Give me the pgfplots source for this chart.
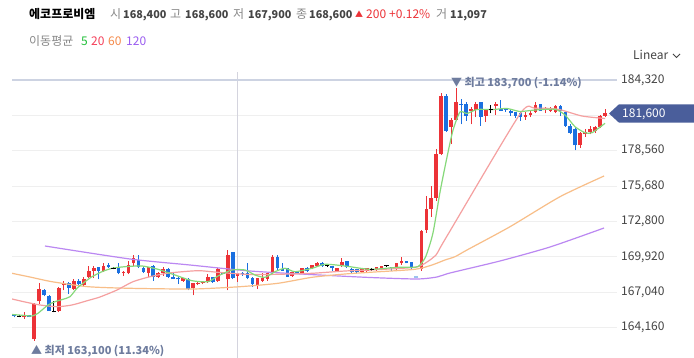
\documentclass[border=0pt]{standalone}
\usepackage{fontspec}
\setmainfont{Noto Sans CJK KR}
\usepackage{pgfplots}
\usepackage{pgfplotstable}
\pgfplotsset{compat=1.18}
\definecolor{cred}{HTML}{EC3237}
\definecolor{cblue}{HTML}{1A6FE0}
\definecolor{ma5}{HTML}{86D97A}
\definecolor{ma20}{HTML}{F5A0A0}
\definecolor{ma60}{HTML}{F8BE88}
\definecolor{ma120}{HTML}{BB88F2}
\definecolor{gridc}{HTML}{EFEFEF}
\definecolor{topgrid}{HTML}{CDD3E2}
\definecolor{crossc}{HTML}{D4D4DE}
\definecolor{annot}{HTML}{6E7C9E}
\definecolor{pricebox}{HTML}{4A5E9B}
\definecolor{labc}{HTML}{444444}
\definecolor{graytxt}{HTML}{888888}
\definecolor{lg5}{HTML}{22C03A}
\definecolor{lg20}{HTML}{F5405A}
\definecolor{lg60}{HTML}{F58A4A}
\definecolor{lg120}{HTML}{9A5CF0}
\definecolor{mk}{HTML}{9CC2EE}

\pgfplotstableread{
i o h l c
2 165000 165400 164900 165200
4 163200 166200 163100 166100
5 166300 167800 166100 167300
9 165500 167500 165400 167400
10 167600 168000 167200 167800
12 167300 168100 167200 168000
14 167600 168300 167500 168100
15 168300 169200 168200 168800
16 168800 169200 168200 169000
18 168800 169400 168700 169200
22 168600 168800 168400 168700
23 168600 169600 168500 169300
24 169400 170100 169200 169800
27 168600 169100 168300 169100
29 168300 168700 168200 168600
30 168600 169100 168400 168900
34 168000 168200 167900 168200
36 167400 167800 166800 167800
37 167700 167900 167600 167800
38 167800 168000 167700 167900
39 167900 168500 167800 168300
41 168000 169000 167900 168900
43 168100 170500 167200 170100
45 168400 168600 167900 168600
49 167600 168200 167300 168200
50 168000 168600 167900 168200
51 168100 168600 168000 168600
52 168600 170100 168500 169900
56 168400 168700 168300 168700
58 168600 169000 168500 169000
60 169000 169300 168900 169300
61 169200 169500 169100 169400
65 168800 169000 168700 169000
66 169200 169800 169100 169500
70 168700 168900 168600 168900
71 168800 169000 168700 169000
73 168900 169100 168800 169100
74 169000 169200 168900 169200
77 169000 169400 168800 169400
78 169400 169900 169300 169600
82 168900 172100 168800 172000
83 172100 174900 171900 173800
84 173800 175700 173200 174700
85 174700 178700 174500 178300
86 178300 183300 178200 183000
88 180500 181200 179100 181100
89 181100 183700 181000 182500
92 181800 182100 180700 182000
93 181900 182500 181300 182400
95 181400 182000 180900 182000
97 182200 182500 181500 182400
103 181300 181700 181100 181500
104 181500 181800 181300 181600
105 181700 182500 181600 182300
107 181900 182100 181600 182000
108 181800 182100 181700 182000
109 181700 182300 181600 182200
114 179000 180100 178800 180000
115 179900 180300 179700 180100
116 180100 180600 179900 180300
117 180200 180600 180000 180500
118 180500 181500 180400 181400
119 181400 182000 181300 181600
}\upT

\pgfplotstableread{
i o h l c
0 165200 165300 165000 165100
3 165200 165200 165000 165000
6 167200 167300 166700 166800
7 166700 166800 165500 165500
11 167800 167900 166900 167400
13 168000 168100 167500 167700
17 169100 169100 168100 168800
19 169300 169400 169000 169100
21 169100 169400 168500 168600
25 169700 170100 169000 169100
26 169000 169100 168600 168700
28 169200 169300 168000 168300
31 168900 169000 168200 168300
32 168300 168700 168100 168100
33 168200 168300 167700 168100
35 168100 168200 167200 167300
40 168300 168300 167800 167900
42 168600 168700 168500 168500
44 170300 170300 168100 168200
46 168600 168700 168400 168500
47 168600 169400 168100 168200
48 168200 168300 167500 167700
53 169900 170100 168800 169000
54 168900 169400 168800 168800
55 169000 169000 168300 168300
57 168700 168800 168500 168600
59 169000 169100 168700 168800
62 169400 169500 169100 169200
64 169200 169200 168800 169000
67 169600 169600 169000 169100
68 168900 169000 168600 168700
69 168900 168900 168600 168700
76 169100 169100 168800 169000
79 169600 169600 169400 169400
80 169500 169500 168900 169000
87 183000 183200 180100 180200
90 182400 182800 180700 182300
91 182400 182500 181000 181400
94 182500 182500 180600 181300
98 182000 182700 181800 181800
99 182000 182000 181700 181900
100 181800 181900 181400 181600
101 181700 181700 181200 181400
102 181600 181800 181000 181300
106 182400 182400 181800 181800
110 182200 182300 181400 181800
111 181700 181700 180500 180600
112 180600 180700 179900 180000
113 180300 180500 178600 179000
}\downT

\pgfplotstableread{
i o h l c
1 165100 165200 165000 165100
8 165500 166300 165400 165500
20 169000 169100 168900 169000
63 169200 169300 169100 169200
72 168900 169000 168800 168900
75 169200 169300 169100 169200
96 181900 182300 181600 181900
}\dojiT

\pgfplotstableread{
x y
6.18 170810
23.31 169751
35.39 169263
47.48 168775
59.57 168490
71.65 168246
81.12 168124
85.15 168286
87.77 168612
97.84 169589
107.92 170728
118.8 172275
}\maOneTwenty

\pgfplotstableread{
x y
-0.46 168588
3.16 168286
7.59 167904
14.85 167497
23.31 167367
36.0 167310
45.47 167497
53.12 167774
59.97 168262
66.62 168531
71.65 168669
80.72 168913
84.14 169263
86.76 169670
88.78 169939
91.19 170484
99.86 172380
109.93 174822
118.8 176507
}\maSixty

\pgfplotstableread{
x y
-0.46 166496
2.16 166252
5.18 166008
8.60 165869
11.62 166008
14.85 166374
17.26 166659
20.69 167228
23.91 167904
27.34 168311
30.76 168588
34.39 168734
37.41 168799
41.44 168653
47.48 168490
53.12 168506
59.97 168588
66.62 168775
71.65 168856
80.72 169076
83.14 169507
84.95 170077
85.76 170647
87.77 172030
101.87 181553
104.89 182017
109.53 181936
114.36 181390
119.0 181187
}\maTwenty

\pgfplotstableread{
x y
-0.46 165234
2.16 165153
3.57 165112
4.77 165332
6.79 166008
8.20 166276
9.81 166471
11.22 166683
12.63 167367
14.25 167904
15.65 168311
17.67 168718
19.68 168995
22.30 169125
25.73 169182
28.95 168913
32.37 168449
35.80 167985
39.02 167904
41.04 168368
43.86 168856
46.48 168856
48.49 168449
50.50 168262
52.52 168718
54.53 168995
56.55 168718
59.97 168995
62.59 169320
66.62 169182
71.65 168913
77.29 169076
80.72 169076
81.73 169263
82.93 169996
84.34 171868
85.76 175205
87.17 178053
88.38 180251
89.79 181716
91.20 181594
93.21 181919
96.44 181919
99.26 182001
101.87 181757
104.89 181879
108.92 181936
110.94 181472
112.95 180519
114.97 180031
116.38 180031
119.0 180796
}\maFive

\newcommand\tf{\fontsize{12}{14}\selectfont}
\newcommand\nf{\fontsize{10.8}{13}\selectfont\bfseries}
\newcommand\smf{\fontsize{11}{13}\selectfont}

\pgfplotsset{
  wick/.style={draw=none, mark=none, forget plot,
    error bars/.cd, y dir=plus, y explicit, error mark=none,
    error bar style={#1, line width=1pt}},
  body/.style={draw=none, mark=none, forget plot,
    error bars/.cd, y dir=plus, y explicit, error mark=none,
    error bar style={#1, line width=3.6pt}},
}

\begin{document}
\begin{tikzpicture}[x=1pt,y=1pt]
\path[use as bounding box, fill=white] (0,0) rectangle (694,358);
\begin{axis}[
  at={(12pt,0pt)}, anchor=south west,
  width=605pt, height=286pt, scale only axis,
  xmin=-0.46, xmax=121.41,
  ymin=161694, ymax=184972,
  axis line style={draw=none},
  scaled y ticks=false,
  xtick=\empty,
  extra x ticks={45}, extra x tick labels={},
  extra x tick style={xmajorgrids=true, major grid style={color=crossc, line width=1.2pt}},
  ytick={164160,167040,169920,172800,175680,178560,181440},
  yticklabels={{164,160},{167,040},{169,920},{172,800},{175,680},{178,560},{}},
  extra y ticks={184320}, extra y tick labels={184{,}320},
  extra y tick style={ymajorgrids=true, major grid style={color=topgrid, line width=1.2pt}},
  yticklabel pos=right,
  major tick length=0pt,
  ymajorgrids, major grid style={color=gridc, line width=1pt},
  tick label style={font=\tf, text=labc, inner sep=0pt},
  yticklabel style={anchor=west, xshift=4pt},
  /pgf/number format/assume math mode=true,
]
% wicks
\addplot[wick=cred] table[x=i, y=l, y error expr=\thisrow{h}-\thisrow{l}] {\upT};
\addplot[wick=cblue] table[x=i, y=l, y error expr=\thisrow{h}-\thisrow{l}] {\downT};
\addplot[wick=black] table[x=i, y=l, y error expr=\thisrow{h}-\thisrow{l}] {\dojiT};
% bodies
\addplot[body=cred] table[x=i, y=o, y error expr=\thisrow{c}-\thisrow{o}] {\upT};
\addplot[body=cblue] table[x=i, y=c, y error expr=\thisrow{o}-\thisrow{c}] {\downT};
\addplot[only marks, mark=-, mark size=2.2pt, mark options={line width=1pt, black}, forget plot] table[x=i, y=c] {\dojiT};
\addplot[only marks, mark=-, mark size=2pt, mark options={line width=2pt, mk}, forget plot] coordinates {(81,168300)};
% moving averages
\addplot[ma120, line width=1.2pt, smooth, tension=0.4] table {\maOneTwenty};
\addplot[ma60, line width=1.2pt, smooth, tension=0.4] table {\maSixty};
\addplot[ma20, line width=1.2pt, smooth, tension=0.4] table {\maTwenty};
\addplot[ma5, line width=1.2pt, smooth, tension=0.4] table {\maFive};
\end{axis}
% header
\node[anchor=base west, inner sep=0] at (29,339.3) {\tf\bfseries 에코프로비엠};
\node[anchor=base west, inner sep=0, text=graytxt] at (110,339.3) {\tf 시};
\node[anchor=base west, inner sep=0, text=labc] at (123,339.3) {\nf 168,400};
\node[anchor=base west, inner sep=0, text=graytxt] at (170,339.3) {\tf 고};
\node[anchor=base west, inner sep=0, text=labc] at (185,339.3) {\nf 168,600};
\node[anchor=base west, inner sep=0, text=graytxt] at (233,339.3) {\tf 저};
\node[anchor=base west, inner sep=0, text=labc] at (248,339.3) {\nf 167,900};
\node[anchor=base west, inner sep=0, text=graytxt] at (296,339.3) {\tf 종};
\node[anchor=base west, inner sep=0, text=labc] at (309,339.3) {\nf 168,600};
\node[anchor=base west, inner sep=0, text=cred] at (355,340.5) {\fontsize{8}{9}\selectfont ▲};
\node[anchor=base west, inner sep=0, text=cred] at (366,339.3) {\tf 200};
\node[anchor=base west, inner sep=0, text=cred] at (389,339.3) {\tf +0.12\%};
\node[anchor=base west, inner sep=0, text=graytxt] at (436,339.3) {\tf 거};
\node[anchor=base west, inner sep=0, text=labc] at (450,339.3) {\nf 11,097};
% MA legend
\node[anchor=base west, inner sep=0, text=graytxt] at (29,312) {\tf 이동평균};
\node[anchor=base west, inner sep=0, text=lg5] at (81,312) {\tf 5};
\node[anchor=base west, inner sep=0, text=lg20] at (91,312) {\tf 20};
\node[anchor=base west, inner sep=0, text=lg60] at (108,312) {\tf 60};
\node[anchor=base west, inner sep=0, text=lg120] at (126,312) {\tf 120};
% Linear selector
\node[anchor=base west, inner sep=0, text=labc] at (633,298) {\tf Linear};
\draw[labc, line width=0.9pt] (673,304) -- (676.5,300.5) -- (680,304);
% price box
\fill[pricebox] (609,244.5) -- (619,253.7) -- (694,253.7) -- (694,235.3) -- (619,235.3) -- cycle;
\node[anchor=base west, inner sep=0, text=white] at (622,240.7) {\tf 181,600};
% high/low annotations
\node[anchor=base west, inner sep=0, text=annot] at (451,271.5) {\smf ▼ \bfseries 최고 183,700 (-1.14\%)};
\node[anchor=base west, inner sep=0, text=annot] at (31,3.5) {\smf ▲ \bfseries 최저 163,100 (11.34\%)};
\end{tikzpicture}
\end{document}
